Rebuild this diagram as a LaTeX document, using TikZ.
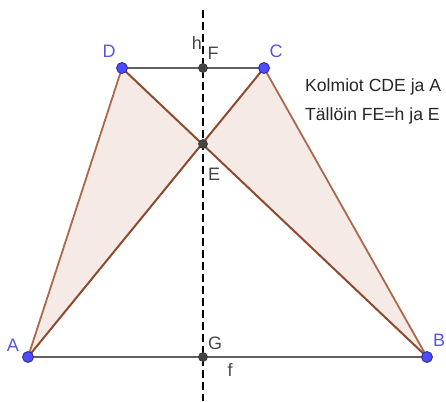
\documentclass[tikz,border=0pt]{standalone}
\usepackage{fontspec}
\setmainfont{Liberation Sans}
\usepackage{xcolor}
\usetikzlibrary{positioning,calc}
\definecolor{ptblue}{RGB}{77,77,255}
\definecolor{ptrim}{RGB}{40,40,150}
\definecolor{ptgrey}{RGB}{68,68,68}
\definecolor{seggrey}{RGB}{96,96,96}
\definecolor{brownln}{RGB}{140,75,45}
\definecolor{brownlt}{RGB}{170,105,75}
\definecolor{trifill}{RGB}{246,234,230}
\definecolor{lblblue}{RGB}{85,85,225}
\definecolor{lblgrey}{RGB}{70,70,70}
\tikzset{
  bpt/.style   ={circle, draw=ptrim, fill=ptblue, line width=0.8pt,
                 inner sep=0pt, minimum size=11pt},
  gpt/.style   ={circle, draw=black!80, fill=ptgrey, line width=0.6pt,
                 inner sep=0pt, minimum size=9pt},
  blbl/.style  ={text=lblblue, font=\fontsize{18}{18}\selectfont, inner sep=0pt},
  glbl/.style  ={text=lblgrey, font=\fontsize{18}{18}\selectfont, inner sep=0pt},
  seg/.style   ={draw=seggrey, line width=2.2pt},
  tri/.style   ={fill=trifill, draw=none},
  brln/.style  ={draw=brownln, line width=2pt},
  brlt/.style  ={draw=brownlt, line width=1.8pt},
  axisln/.style={draw=black, line width=1.6pt, dash pattern=on 8pt off 4pt},
  note/.style  ={font=\fontsize{17.6}{17.6}\selectfont, text=black!85,
                 anchor=base west, inner sep=0pt},
}
\begin{document}
\begin{tikzpicture}[x=1pt,y=-1pt]
\useasboundingbox (0,0) rectangle (446,401);
% points
\coordinate (A) at (28,357);
\coordinate (B) at (427,357);
\coordinate (C) at (264,68);
\coordinate (D) at (122,68);
\coordinate (E) at (203,144);
\coordinate (F) at (203,68);
\coordinate (G) at (203,357);
\coordinate (top) at (203,10);
\coordinate (bot) at (203,401);
% triangles
\fill[tri] (A) -- (D) -- (E) -- cycle;
\fill[tri] (B) -- (C) -- (E) -- cycle;
\draw[brlt] (A) -- (D);
\draw[brlt] (C) -- (B);
\draw[brln] (D) -- (B);
\draw[brln] (A) -- (C);
% segments
\draw[seg] (D) -- (C);
\draw[seg] (A) -- (B);
\draw[axisln] (top) -- (bot);
% dots
\node[bpt] (pA) at (A) {};
\node[bpt] (pB) at (B) {};
\node[bpt] (pC) at (C) {};
\node[bpt] (pD) at (D) {};
\node[gpt] (pE) at (E) {};
\node[gpt] (pF) at (F) {};
\node[gpt] (pG) at (G) {};
% labels
\node[blbl] (lA) at (13,345) {A};
\node[blbl] (lB) at (439,340) {B};
\node[blbl] (lC) at (276,51) {C};
\node[blbl] (lD) at (109,51) {D};
\node[glbl] (lE) at (214,174) {E};
\node[glbl] (lF) at (213,53) {F};
\node[glbl] (lG) at (215,343) {G};
\node[glbl] (lh) at (197,43) {h};
\node[glbl] (lf) at (230,370) {f};
\node[note] (n1) at (305,92) {Kolmiot CDE ja A};
\node[note] (n2) at (305,120) {Tällöin FE=h ja E};
\end{tikzpicture}
\end{document}
